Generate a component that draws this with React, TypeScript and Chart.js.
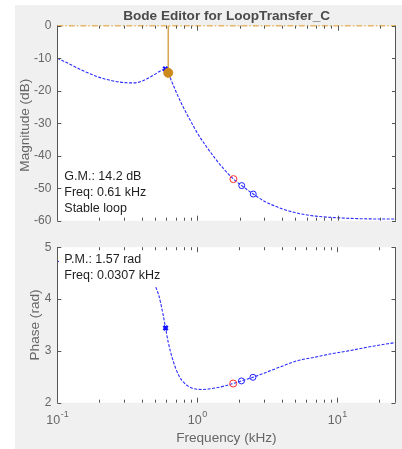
import React, { useEffect, useRef } from "react";
import { Chart, registerables } from "chart.js";
Chart.register(...registerables);

const FONT = '"Liberation Sans", Arial, Helvetica, sans-serif';

// ---- data (frequency in kHz) ----
const magFreq = [0.1, 0.125, 0.15, 0.2, 0.25, 0.3, 0.35, 0.4, 0.45, 0.5, 0.55, 0.59, 0.619, 0.65, 0.7, 0.778, 0.85, 0.92, 1.0, 1.15, 1.34, 1.55, 1.806, 2.07, 2.5, 3.0, 4.0, 5.2, 7.0, 10, 15, 26.1];
const magDb = [-10, -12.0, -13.7, -15.9, -17.0, -17.5, -17.6, -17.1, -16.0, -14.9, -13.8, -13.3, -14.5, -16.8, -20.1, -24.4, -27.6, -30.3, -33.1, -37.0, -40.9, -44.2, -47.2, -49.2, -51.8, -54.0, -56.3, -57.7, -58.6, -59.1, -59.4, -59.5];

const phFreq = [0.505, 0.53, 0.548, 0.57, 0.594, 0.62, 0.66, 0.7, 0.74, 0.778, 0.85, 0.92, 1.0, 1.1, 1.25, 1.5, 1.806, 2.07, 2.5, 3.0, 4.0, 5.2, 7.0, 8.9, 12, 18, 26.1];
const phRad = [4.23, 4.08, 3.92, 3.7, 3.44, 3.17, 2.88, 2.67, 2.52, 2.43, 2.33, 2.28, 2.26, 2.255, 2.27, 2.31, 2.37, 2.42, 2.49, 2.57, 2.7, 2.81, 2.88, 2.94, 3.0, 3.09, 3.16];
const phFragFreq = [0.1, 0.1025];
const phFragRad = [4.74, 4.72];

const gmFreq = [0.619];
const gmDb = [-14.5];
const zeroLineFreq = [0.1, 26.1];
const zeroLineDb = [0, 0];
const peakFreq = [0.59];
const peakDb = [-13.3];
const pmFreq = [0.594];
const pmRad = [3.44];
const redFreq = [1.806];
const redDb = [-47.2];
const redRad = [2.37];
const blueFreq = [2.07, 2.5];
const blueDb = [-49.2, -51.8];
const blueRad = [2.42, 2.49];

const xMin = 0.1;
const xMax = 26.1;
const xDecades = [-1, 0, 1];
const magTicks = { min: -60, max: 0, step: 10 };
const phTicks = { min: 2, max: 5, step: 1 };

const title = "Bode Editor for LoopTransfer_C";
const magLabel = "Magnitude (dB)";
const phLabel = "Phase (rad)";
const freqLabel = "Frequency (kHz)";
const gmText = ["G.M.: 14.2 dB", "Freq: 0.61 kHz", "Stable loop"];
const pmText = ["P.M.: 1.57 rad", "Freq: 0.0307 kHz"];

const pts = (xs: number[], ys: number[]) => xs.map((x, i) => ({ x, y: ys[i] }));

const BLUE = "rgba(20,20,255,0.9)";
const AXC = "#555555";
const TXT = "#666666";

function framePlugin(kind: "mag" | "ph") {
  return {
    id: "frame_" + kind,
    beforeDraw(chart: any) {
      const { ctx, chartArea: a } = chart;
      ctx.save();
      ctx.fillStyle = "#ffffff";
      ctx.fillRect(a.left, a.top, a.right - a.left, a.bottom - a.top);
      ctx.restore();
    },
    afterDraw(chart: any) {
      const { ctx, chartArea: a, scales } = chart;
      const xs = scales.x;
      const ys = scales.y;
      ctx.save();
      ctx.strokeStyle = AXC;
      ctx.lineWidth = 1;
      const L = Math.round(a.left) + 0.5;
      const R = Math.round(a.right) - 0.5;
      ctx.beginPath();
      ctx.moveTo(L, a.top);
      ctx.lineTo(L, a.bottom);
      ctx.moveTo(R, a.top);
      ctx.lineTo(R, a.bottom);
      for (const d of xDecades) {
        for (let k = 1; k <= 9; k++) {
          const v = k * Math.pow(10, d);
          if (v < xMin - 1e-9 || v > xMax) continue;
          const px = Math.round(xs.getPixelForValue(v)) + 0.5;
          const len = k === 1 ? 5 : 3;
          ctx.moveTo(px, a.top);
          ctx.lineTo(px, a.top + len);
          ctx.moveTo(px, a.bottom);
          ctx.lineTo(px, a.bottom - len);
        }
      }
      for (const t of ys.ticks) {
        const py = Math.round(ys.getPixelForValue(t.value)) + 0.5;
        ctx.moveTo(a.left, py);
        ctx.lineTo(a.left + 4, py);
        ctx.moveTo(a.right, py);
        ctx.lineTo(a.right - 4, py);
      }
      ctx.stroke();

      ctx.fillStyle = "#1e1e1e";
      ctx.textBaseline = "middle";
      ctx.textAlign = "left";
      ctx.font = `12.5px ${FONT}`;
      if (kind === "mag") {
        const ys0 = [177, 193, 208.5];
        gmText.forEach((s, i) => ctx.fillText(s, a.left + 7, ys0[i]));
        ctx.fillStyle = "#4a4a4a";
        ctx.textAlign = "center";
        ctx.font = `bold 13.6px ${FONT}`;
        ctx.fillText(title, (a.left + a.right) / 2, 16.7);
        ctx.fillStyle = TXT;
        ctx.font = `13.6px ${FONT}`;
        ctx.translate(25, (a.top + a.bottom) / 2 + 2);
        ctx.rotate(-Math.PI / 2);
        ctx.fillText(magLabel, 0, 0);
      } else {
        const ys0 = [a.top + 12.5, a.top + 28];
        pmText.forEach((s, i) => ctx.fillText(s, a.left + 7, ys0[i]));
        ctx.fillStyle = TXT;
        for (const d of xDecades) {
          const px = xs.getPixelForValue(Math.pow(10, d));
          ctx.font = `12.5px ${FONT}`;
          const w1 = ctx.measureText("10").width;
          ctx.font = `9px ${FONT}`;
          const e = String(d);
          const w2 = ctx.measureText(e).width;
          const x0 = px - (w1 + w2) / 2;
          ctx.textAlign = "left";
          ctx.font = `12.5px ${FONT}`;
          ctx.fillText("10", x0, a.bottom + 18);
          ctx.font = `9px ${FONT}`;
          ctx.fillText(e, x0 + w1 + 0.5, a.bottom + 11.5);
        }
        ctx.textAlign = "center";
        ctx.font = `13.6px ${FONT}`;
        ctx.fillText(freqLabel, (a.left + a.right) / 2, a.bottom + 35.5);
        ctx.translate(35, (a.top + a.bottom) / 2);
        ctx.rotate(-Math.PI / 2);
        ctx.fillText(phLabel, 0, 0);
      }
      ctx.restore();
    },
  };
}

function yScale(t: { min: number; max: number; step: number }, width: number) {
  return {
    type: "linear",
    min: t.min,
    max: t.max,
    ticks: { stepSize: t.step, color: TXT, font: { family: FONT, size: 12 }, padding: 6 },
    grid: { display: false, drawTicks: false },
    border: { display: false },
    afterFit: (s: any) => {
      s.width = width;
    },
  };
}

function xScale() {
  return { type: "logarithmic", min: xMin, max: xMax, display: false };
}

const curveStyle = {
  borderColor: BLUE,
  borderWidth: 1.1,
  borderDash: [3, 1.5],
  pointRadius: 0,
  showLine: true,
  fill: false,
  cubicInterpolationMode: "monotone",
  order: 5,
};

function circle(color: string, r: number) {
  return {
    showLine: false,
    pointStyle: "circle",
    pointRadius: r,
    pointBorderColor: color,
    pointBackgroundColor: "rgba(0,0,0,0)",
    pointBorderWidth: 1,
    order: 1,
  };
}

export default function App() {
  const magRef = useRef<HTMLCanvasElement>(null);
  const phRef = useRef<HTMLCanvasElement>(null);

  useEffect(() => {
    const common = {
      responsive: false,
      animation: false,
      devicePixelRatio: 1,
      events: [],
      plugins: { legend: { display: false }, tooltip: { enabled: false }, title: { display: false } },
    };
    const c1 = new Chart(magRef.current as HTMLCanvasElement, {
      type: "scatter",
      data: {
        datasets: [
          { ...curveStyle, data: pts(magFreq, magDb) },
          {
            data: pts(zeroLineFreq, zeroLineDb),
            showLine: true,
            borderColor: "#e6b866",
            borderWidth: 1.5,
            borderDash: [6, 2, 1.5, 2],
            pointRadius: 0,
            clip: false,
            order: 4,
          },
          {
            data: [
              { x: gmFreq[0], y: zeroLineDb[0] },
              { x: gmFreq[0], y: gmDb[0] },
            ],
            showLine: true,
            borderColor: "#d9a550",
            borderWidth: 1.5,
            pointRadius: 0,
            clip: false,
            order: 3,
          },
          {
            data: pts(peakFreq, peakDb),
            showLine: false,
            pointStyle: "crossRot",
            pointRadius: 3,
            pointBorderColor: "#1010ff",
            pointBorderWidth: 2,
            order: 2,
          },
          {
            data: pts(gmFreq, gmDb),
            showLine: false,
            pointStyle: "circle",
            pointRadius: 4.5,
            pointBorderColor: "#cc8a1c",
            pointBackgroundColor: "#cc8a1c",
            pointBorderWidth: 1,
            order: 0,
          },
          { ...circle("#ff3030", 3.5), data: pts(redFreq, redDb) },
          { ...circle("#2020ff", 3), data: pts(blueFreq, blueDb) },
        ],
      },
      options: {
        ...common,
        layout: { padding: { left: 0, right: 3, top: 25.7, bottom: 234 - 220.7 } },
        scales: { x: xScale(), y: yScale(magTicks, 57.3) },
      },
      plugins: [framePlugin("mag")],
    } as any);

    const c2 = new Chart(phRef.current as HTMLCanvasElement, {
      type: "scatter",
      data: {
        datasets: [
          { ...curveStyle, data: pts(phFreq, phRad) },
          { ...curveStyle, cubicInterpolationMode: "default", data: pts(phFragFreq, phFragRad) },
          {
            data: pts(pmFreq, pmRad),
            showLine: false,
            pointStyle: "crossRot",
            pointRadius: 3,
            pointBorderColor: "#1010ff",
            pointBorderWidth: 2.5,
            order: 0,
          },
          { ...circle("#ff3030", 3.5), data: pts(redFreq, redRad) },
          { ...circle("#2020ff", 3), data: pts(blueFreq, blueRad) },
        ],
      },
      options: {
        ...common,
        layout: { padding: { left: 0, right: 3, top: 242 - 234, bottom: 449 - 402.7 } },
        scales: { x: xScale(), y: yScale(phTicks, 57.3) },
      },
      plugins: [framePlugin("ph")],
    } as any);

    return () => {
      c1.destroy();
      c2.destroy();
    };
  }, []);

  return (
    <div style={{ position: "absolute", left: 0, top: 0, width: 402, height: 449, background: "#ffffff", overflow: "hidden" }}>
      <div style={{ position: "absolute", left: 15, top: 5, width: 387, height: 444, background: "#f0f0f0" }} />
      <canvas ref={magRef} width={402} height={234} style={{ position: "absolute", left: 0, top: 0, width: 402, height: 234 }} />
      <canvas ref={phRef} width={402} height={215} style={{ position: "absolute", left: 0, top: 234, width: 402, height: 215 }} />
    </div>
  );
}
